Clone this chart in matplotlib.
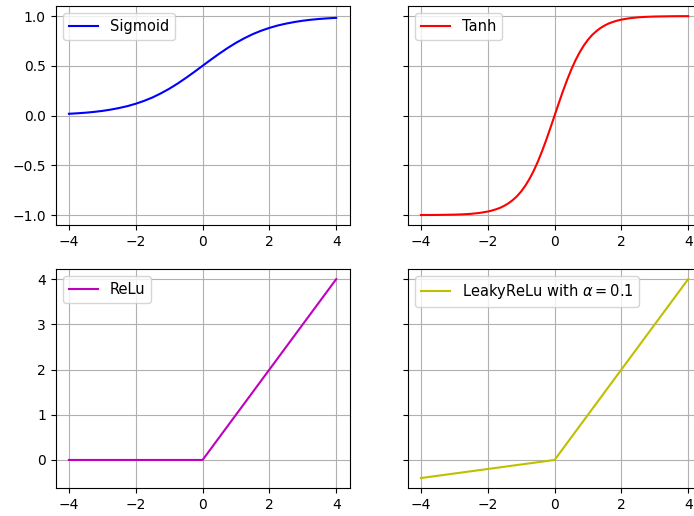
import matplotlib
matplotlib.use("Agg")
import matplotlib.pyplot as plt

# sample points
x = [-4.0, -3.75, -3.5, -3.25, -3.0, -2.75, -2.5, -2.25, -2.0, -1.75, -1.5, -1.25, -1.0, -0.75, -0.5, -0.25,
     0.0, 0.25, 0.5, 0.75, 1.0, 1.25, 1.5, 1.75, 2.0, 2.25, 2.5, 2.75, 3.0, 3.25, 3.5, 3.75, 4.0]

sigmoid = [0.018, 0.023, 0.029, 0.037, 0.047, 0.060, 0.076, 0.095, 0.119, 0.148, 0.182, 0.223, 0.269, 0.321, 0.378, 0.438,
           0.5, 0.562, 0.622, 0.679, 0.731, 0.777, 0.818, 0.852, 0.881, 0.905, 0.924, 0.940, 0.953, 0.963, 0.971, 0.977, 0.982]

# tanh is steep, so it gets a finer grid in the middle
x_tanh = [-4.0, -3.5, -3.0, -2.75, -2.5, -2.25, -2.0, -1.875, -1.75, -1.625, -1.5, -1.375, -1.25, -1.125, -1.0,
          -0.875, -0.75, -0.625, -0.5, -0.375, -0.25, -0.125, 0.0, 0.125, 0.25, 0.375, 0.5, 0.625, 0.75, 0.875,
          1.0, 1.125, 1.25, 1.375, 1.5, 1.625, 1.75, 1.875, 2.0, 2.25, 2.5, 2.75, 3.0, 3.5, 4.0]
tanh = [-0.999, -0.998, -0.995, -0.992, -0.987, -0.978, -0.964, -0.954, -0.941, -0.926, -0.905, -0.880, -0.848,
        -0.810, -0.762, -0.704, -0.635, -0.555, -0.462, -0.358, -0.245, -0.124, 0.0, 0.124, 0.245, 0.358, 0.462,
        0.555, 0.635, 0.704, 0.762, 0.810, 0.848, 0.880, 0.905, 0.926, 0.941, 0.954, 0.964, 0.978, 0.987, 0.992,
        0.995, 0.998, 0.999]

relu = [0, 0, 0, 0, 0, 0, 0, 0, 0, 0, 0, 0, 0, 0, 0, 0,
        0, 0.25, 0.5, 0.75, 1.0, 1.25, 1.5, 1.75, 2.0, 2.25, 2.5, 2.75, 3.0, 3.25, 3.5, 3.75, 4.0]

leaky = [-0.4, -0.375, -0.35, -0.325, -0.3, -0.275, -0.25, -0.225, -0.2, -0.175, -0.15, -0.125, -0.1, -0.075, -0.05, -0.025,
         0, 0.25, 0.5, 0.75, 1.0, 1.25, 1.5, 1.75, 2.0, 2.25, 2.5, 2.75, 3.0, 3.25, 3.5, 3.75, 4.0]

fig = plt.figure(figsize=(6.94, 5.16), dpi=100)
# right column runs past the right edge, like the cropped original
ax1 = fig.add_axes([0.0801, 0.564, 0.4236, 0.424])
ax2 = fig.add_axes([0.5873, 0.564, 0.4236, 0.424], sharey=ax1)
ax3 = fig.add_axes([0.0801, 0.0543, 0.4236, 0.424])
ax4 = fig.add_axes([0.5873, 0.0543, 0.4236, 0.424], sharey=ax3)

ax1.plot(x, sigmoid, 'b', label='Sigmoid')
ax2.plot(x_tanh, tanh, 'r', label='Tanh')
ax3.plot(x, relu, 'm', label='ReLu')
ax4.plot(x, leaky, 'y', label=r'LeakyReLu with $\alpha = 0.1$')

for ax in [ax1, ax2, ax3, ax4]:
    ax.grid(True)
    ax.legend(loc='upper left', fontsize=10.5)
    ax.set_xticks([-4, -2, 0, 2, 4])

ax1.set_yticks([-1.0, -0.5, 0.0, 0.5, 1.0])
ax2.tick_params(labelleft=False)
ax4.tick_params(labelleft=False)

fig.savefig("out.png", dpi=100)
